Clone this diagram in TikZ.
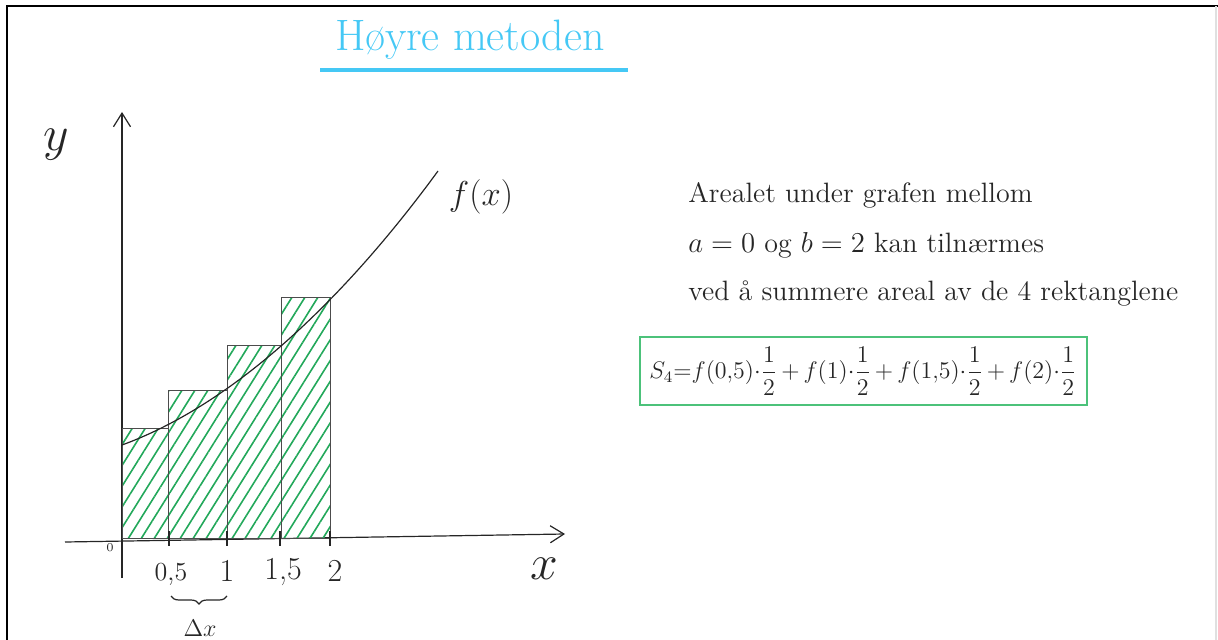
\documentclass[tikz,border=0pt]{standalone}
\usepackage{amsmath}
\usetikzlibrary{arrows.meta, positioning, patterns.meta, decorations.pathreplacing}
\usepackage{xcolor}
\definecolor{tt}{HTML}{45C8F5}
\definecolor{gg}{HTML}{22A85A}
\definecolor{bb}{HTML}{4CC27A}

\begin{document}
\begin{tikzpicture}[x=0.5pt, y=-0.5pt, font=\fontsize{14}{16}\selectfont,
    pen/.style={draw=black!85, line width=0.6pt},
    strip/.style={draw=black!70, line width=0.5pt, pattern={Lines[angle=58, distance=5.5pt, line width=0.8pt]}, pattern color=gg},
    lbl/.style={inner sep=1pt, text=black!85},
    txtline/.style={lbl, anchor=west, font=\fontsize{14}{16}\selectfont},
    >={Straight Barb[length=2.4mm, width=3mm]}]
  \useasboundingbox (0,0) rectangle (1218,640);
  % frame
  \draw[line width=1.4pt] (7,640) -- (7,6) -- (1218,6);
  \draw[black!12, line width=0.8pt] (1216,6) -- (1216,640);

  % title
  \node[text=tt, font=\fontsize{22}{24}\selectfont] (title) at (470,40) {Høyre metoden};
  \draw[tt, line width=1.6pt] (320,70) -- (628,70);

  % axes
  \coordinate (ybot) at (122,578);
  \coordinate (ytop) at (122,112);
  \coordinate (xl) at (65,542);
  \coordinate (xr) at (565,534);
  \draw[pen, ->] (ybot) -- (ytop);
  \draw[pen, ->] (xl) -- (xr);

  % rectangles, right endpoints
  \foreach \a/\b/\h in {122/168/428, 168/227/390, 227/281/346, 281/330/298}
    \draw[strip] (\a,538) rectangle (\b,\h);

  % the graph
  \coordinate (g0) at (122,445);
  \coordinate (g1) at (438,171);
  \draw[pen] (g0) .. controls (250,398) and (362,275) .. (g1);
  \node[lbl, font=\fontsize{18}{20}\selectfont] (fx) at (481,197) {$f(x)$};

  % ticks and labels
  \foreach \t in {169,227,280,330}
    \draw[pen] (\t,531) -- (\t,546);
  \node[lbl, font=\fontsize{24}{26}\selectfont] (ylab) at (56,145) {$y$};
  \node[lbl, font=\fontsize{24}{26}\selectfont] (xlab) at (544,569) {$x$};
  \node[lbl, font=\fontsize{6}{7}\selectfont] (zero) at (110,548) {0};
  \node[lbl, font=\fontsize{13}{15}\selectfont] (t1) at (171,574) {0,5};
  \node[lbl, font=\fontsize{16}{18}\selectfont] (t2) at (227,571) {1};
  \node[lbl, font=\fontsize{16}{18}\selectfont] (t3) at (283,572) {1,5};
  \node[lbl, font=\fontsize{16}{18}\selectfont] (t4) at (335,571) {2};

  % step width
  \coordinate (b1) at (171,596);
  \coordinate (b2) at (227,596);
  \draw[pen, decorate, decoration={brace, mirror, amplitude=4pt}] (b1) -- (b2);
  \node[lbl, font=\fontsize{13}{15}\selectfont] (dx) at (200,628) {$\Delta x$};

  % explanation
  \node[txtline] (l1) at (686,195) {Arealet under grafen mellom};
  \node[txtline, below=25pt of l1.west, anchor=west] (l2) {$a = 0$ og $b = 2$ kan tilnærmes};
  \node[txtline, below=24.5pt of l2.west, anchor=west] (l3) {ved å summere areal av de 4 rektanglene};
  \node[draw=bb, line width=1pt, minimum width=223.5pt, minimum height=34pt, inner sep=2pt,
        text=black!85, font=\fontsize{11.5}{13}\selectfont] (sum) at (863,371)
    {$S_4 {=} f(0{,}5){\cdot}\dfrac{1}{2}\,{+}\,f(1){\cdot}\dfrac{1}{2}\,{+}\,f(1{,}5){\cdot}\dfrac{1}{2}\,{+}\,f(2){\cdot}\dfrac{1}{2}$};
\end{tikzpicture}
\end{document}
